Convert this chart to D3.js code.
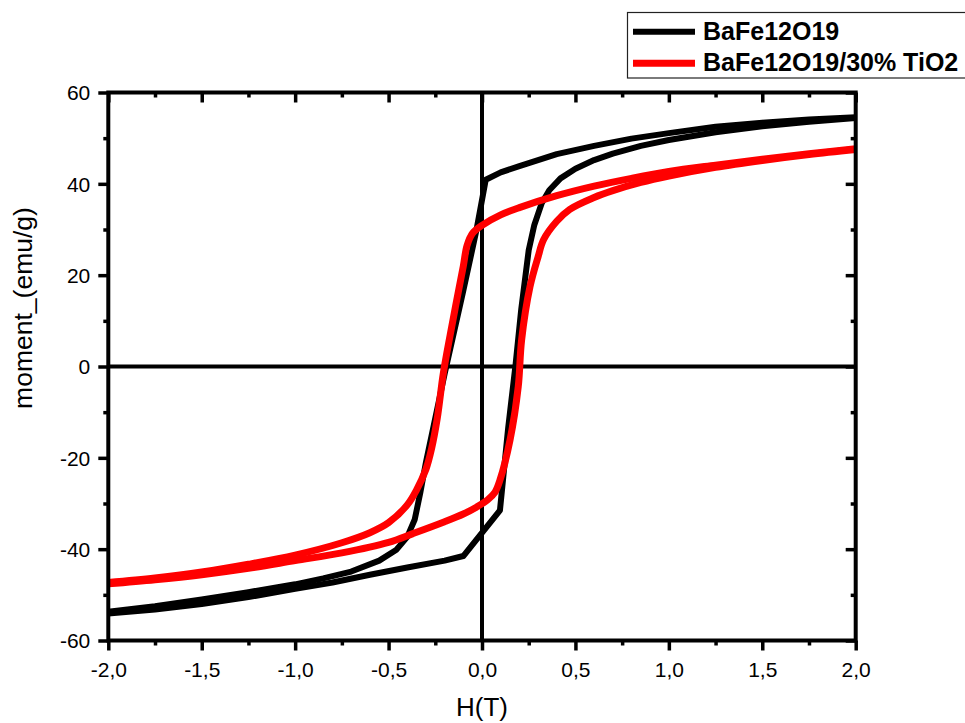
<!DOCTYPE html>
<html>
<head>
<meta charset="utf-8">
<script src="https://cdn.jsdelivr.net/npm/d3@7"></script>
<style>
  html, body { margin: 0; padding: 0; background: #fff; }
  svg { display: block; font-family: "Liberation Sans", Arial, sans-serif; }
</style>
</head>
<body>
<svg id="chart" width="965" height="723"></svg>
<script>
// Hysteresis loops M(H): descending branch (+2 T -> -2 T) and ascending branch (-2 T -> +2 T)
const hBaFeDown = [2.0, 1.75, 1.5, 1.25, 1.0, 0.8, 0.6, 0.4, 0.2, 0.1, 0.02, -0.03, -0.1, -0.2, -0.3, -0.33, -0.36, -0.4, -0.46, -0.55, -0.7, -0.85, -1.0, -1.25, -1.5, -1.75, -2.0];
const mBaFeDown = [54.6, 54.1, 53.4, 52.5, 51.1, 49.9, 48.3, 46.5, 43.9, 42.5, 40.9, 29.8, 16.6, -1.6, -21.0, -27.6, -33.5, -37.3, -40.2, -42.5, -44.9, -46.4, -47.7, -49.4, -51.0, -52.5, -53.7];

const hBaFeUp = [-2.0, -1.75, -1.5, -1.25, -1.0, -0.8, -0.6, -0.4, -0.2, -0.1, 0.096, 0.14, 0.18, 0.21, 0.25, 0.28, 0.32, 0.36, 0.42, 0.5, 0.6, 0.7, 0.85, 1.0, 1.25, 1.5, 1.75, 2.0];
const mBaFeUp = [-54.1, -53.2, -52.0, -50.5, -48.7, -47.3, -45.6, -44.0, -42.5, -41.5, -31.5, -13.5, 0.5, 12.5, 25.5, 31.0, 35.8, 38.6, 41.2, 43.3, 45.2, 46.6, 48.3, 49.6, 51.3, 52.6, 53.6, 54.4];

const hTiDown = [2.0, 1.75, 1.5, 1.25, 1.0, 0.8, 0.6, 0.4, 0.2, 0.1, 0.0, -0.05, -0.08, -0.1, -0.135, -0.17, -0.207, -0.24, -0.27, -0.3, -0.35, -0.4, -0.5, -0.6, -0.75, -1.0, -1.25, -1.5, -1.75, -2.0];
const mTiDown = [47.7, 46.6, 45.4, 44.1, 42.7, 41.2, 39.5, 37.4, 34.8, 33.2, 30.9, 29.2, 26.5, 22.0, 14.6, 7.0, -1.5, -11.5, -18.0, -22.5, -27.0, -30.3, -34.2, -36.4, -38.6, -41.3, -43.3, -45.0, -46.3, -47.3];

const hTiUp = [-2.0, -1.75, -1.5, -1.25, -1.0, -0.75, -0.5, -0.37, -0.2, -0.1, -0.03, 0.03, 0.07, 0.096, 0.15, 0.194, 0.212, 0.257, 0.3, 0.33, 0.4, 0.47, 0.6, 0.7, 0.85, 1.0, 1.25, 1.5, 1.75, 2.0];
const mTiUp = [-47.6, -46.7, -45.6, -44.2, -42.5, -40.8, -38.5, -36.6, -34.0, -32.3, -30.8, -29.2, -27.5, -24.9, -16.1, -4.4, 5.8, 17.5, 24.0, 27.8, 31.8, 34.4, 37.0, 38.5, 40.3, 41.7, 43.6, 45.1, 46.4, 47.5];

const seriesNames = ["BaFe12O19", "BaFe12O19/30% TiO2"];
const seriesColors = ["#000000", "#ff0000"];
const seriesWidths = [6, 7];

const xMajor = [-2.0, -1.5, -1.0, -0.5, 0.0, 0.5, 1.0, 1.5, 2.0];
const xMinor = [-1.75, -1.25, -0.75, -0.25, 0.25, 0.75, 1.25, 1.75];
const yMajor = [-60, -40, -20, 0, 20, 40, 60];
const yMinor = [-50, -30, -10, 10, 30, 50];

const svg = d3.select("#chart");
const pLeft = 108.3, pRight = 855.7, pTop = 92.5, pBottom = 640.5;

const x = d3.scaleLinear().domain([-2, 2]).range([pLeft, pRight]);
const y = d3.scaleLinear().domain([-60, 60]).range([pBottom, pTop]);

const loc = d3.formatLocale({decimal: ",", thousands: ".", grouping: [3], currency: ["", ""], minus: "-"});
const fmtX = loc.format(".1f");
const fmtY = loc.format("d");

const tickW = 3.5;
const labelSize = 21;

// Outer axes (ticks outward on bottom/left, inward on top/right)
function drawAxis(axisGen, transform, values, size, labels) {
  const g = svg.append("g").attr("transform", transform)
    .call(axisGen.tickValues(values).tickSize(size).tickSizeOuter(0)
      .tickFormat(labels ? labels : () => ""));
  g.select(".domain").remove();
  g.selectAll(".tick line").attr("stroke", "#000").attr("stroke-width", tickW);
  return g;
}

const bx = drawAxis(d3.axisBottom(x), `translate(0,${pBottom})`, xMajor, 10, fmtX);
bx.selectAll(".tick text").attr("font-size", labelSize).attr("fill", "#000").attr("dy", 0).attr("y", 36);
drawAxis(d3.axisBottom(x), `translate(0,${pBottom})`, xMinor, 5, null);

const lx = drawAxis(d3.axisLeft(y), `translate(${pLeft},0)`, yMajor, 10, fmtY);
lx.selectAll(".tick text").attr("font-size", labelSize).attr("fill", "#000").attr("x", -18).attr("dy", "0.35em");
drawAxis(d3.axisLeft(y), `translate(${pLeft},0)`, yMinor, 5, null);

drawAxis(d3.axisTop(x), `translate(0,${pTop})`, xMajor, -10, null);
drawAxis(d3.axisTop(x), `translate(0,${pTop})`, xMinor, -5, null);
drawAxis(d3.axisRight(y), `translate(${pRight},0)`, yMajor, -10, null);
drawAxis(d3.axisRight(y), `translate(${pRight},0)`, yMinor, -5, null);

// Zero lines
svg.append("line").attr("x1", pLeft).attr("x2", pRight).attr("y1", y(0)).attr("y2", y(0))
  .attr("stroke", "#000").attr("stroke-width", 4);
svg.append("line").attr("x1", x(0)).attr("x2", x(0)).attr("y1", pTop).attr("y2", pBottom)
  .attr("stroke", "#000").attr("stroke-width", 4);

// Curves
svg.append("clipPath").attr("id", "plotClip").append("rect")
  .attr("x", pLeft).attr("y", pTop - 2).attr("width", pRight - pLeft + 2).attr("height", pBottom - pTop + 4);

const lineLin = d3.line().x(d => x(d[0])).y(d => y(d[1]));
const lineSmooth = d3.line().x(d => x(d[0])).y(d => y(d[1])).curve(d3.curveCatmullRom.alpha(0.5));

const plot = svg.append("g").attr("clip-path", "url(#plotClip)");
const zip = (h, m) => h.map((v, i) => [v, m[i]]);

[[hBaFeDown, mBaFeDown], [hBaFeUp, mBaFeUp]].forEach(([h, m]) => {
  plot.append("path").datum(zip(h, m)).attr("d", lineLin)
    .attr("fill", "none").attr("stroke", seriesColors[0]).attr("stroke-width", seriesWidths[0])
    .attr("stroke-linejoin", "round");
});
[[hTiDown, mTiDown], [hTiUp, mTiUp]].forEach(([h, m]) => {
  plot.append("path").datum(zip(h, m)).attr("d", lineSmooth)
    .attr("fill", "none").attr("stroke", seriesColors[1]).attr("stroke-width", seriesWidths[1])
    .attr("stroke-linejoin", "round");
});

// Frame
svg.append("rect").attr("x", pLeft).attr("y", pTop).attr("width", pRight - pLeft).attr("height", pBottom - pTop)
  .attr("fill", "none").attr("stroke", "#000").attr("stroke-width", 4);

// Axis titles
svg.append("text").attr("x", (pLeft + pRight) / 2).attr("y", 716).attr("text-anchor", "middle")
  .attr("font-size", 26).attr("fill", "#000").text("H(T)");
svg.append("text").attr("transform", "translate(32,308) rotate(-90)").attr("text-anchor", "middle")
  .attr("font-size", 26.5).attr("fill", "#000").text("moment_(emu/g)");

// Legend
const lg = svg.append("g");
lg.append("rect").attr("x", 627.5).attr("y", 12.5).attr("width", 360).attr("height", 65.5)
  .attr("fill", "#fff").attr("stroke", "#222").attr("stroke-width", 1.2);
seriesNames.forEach((name, i) => {
  const yy = 31.7 + i * 31.6;
  lg.append("line").attr("x1", 633).attr("x2", 695).attr("y1", yy).attr("y2", yy)
    .attr("stroke", seriesColors[i]).attr("stroke-width", seriesWidths[i]);
  lg.append("text").attr("x", 703).attr("y", yy + 8).attr("font-size", 25).attr("font-weight", "bold")
    .attr("fill", "#000").text(name);
});
</script>
</body>
</html>
